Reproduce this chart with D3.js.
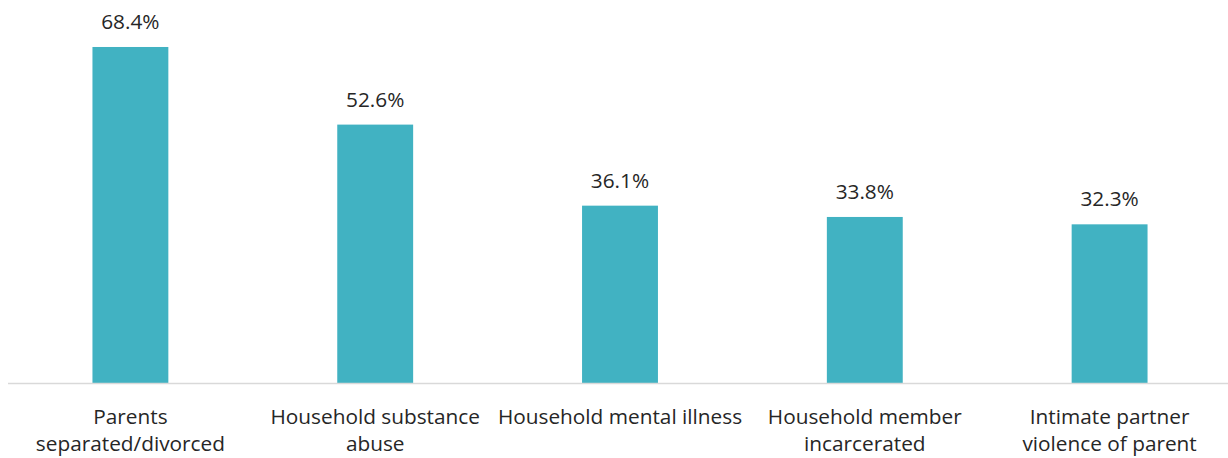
<!DOCTYPE html>
<html><head><meta charset="utf-8">
<script src="https://cdn.jsdelivr.net/npm/d3@7"></script>
<style>body{margin:0;background:#fff}svg{display:block}</style>
</head><body>
<script>
const categories = [["Parents","separated/divorced"],["Household substance","abuse"],["Household mental illness"],["Household member","incarcerated"],["Intimate partner","violence of parent"]];
const values = [68.4, 52.6, 36.1, 33.8, 32.3];
const valueLabels = ["68.4%","52.6%","36.1%","33.8%","32.3%"];

const W = 1228, H = 458;
const svg = d3.select("body").append("svg").attr("width", W).attr("height", H);
const x = d3.scaleBand().domain(d3.range(categories.length)).range([8, 1232]).paddingInner(0.69).paddingOuter(0.345);
const y = d3.scaleLinear().domain([0, 80]).range([383, -10]);

svg.selectAll("rect.bar").data(values).enter().append("rect")
  .attr("class","bar")
  .attr("x", (d,i) => x(i)).attr("width", x.bandwidth())
  .attr("y", d => y(d)).attr("height", d => y(0) - y(d))
  .attr("fill", "#41b2c2");

svg.append("line").attr("x1", 8).attr("x2", 1228).attr("y1", y(0)+0.5).attr("y2", y(0)+0.5)
  .attr("stroke", "#d9d9d9").attr("stroke-width", 1.5);

svg.selectAll("text.val").data(values).enter().append("text")
  .attr("x", (d,i) => x(i) + x.bandwidth()/2).attr("y", d => y(d) - 18)
  .attr("text-anchor","middle").attr("font-family","'Open Sans', sans-serif").attr("font-size", 20.8)
  .attr("fill","#262626").text((d,i) => valueLabels[i]);

const lab = svg.selectAll("text.cat").data(categories).enter().append("text")
  .attr("text-anchor","middle").attr("font-family","'Open Sans', sans-serif").attr("font-size", 20.8)
  .attr("fill","#262626");
lab.each(function(lines, i){
  const t = d3.select(this);
  lines.forEach((l, j) => t.append("tspan").attr("x", x(i) + x.bandwidth()/2).attr("y", 424 + j*27).text(l));
});
</script>
</body></html>
